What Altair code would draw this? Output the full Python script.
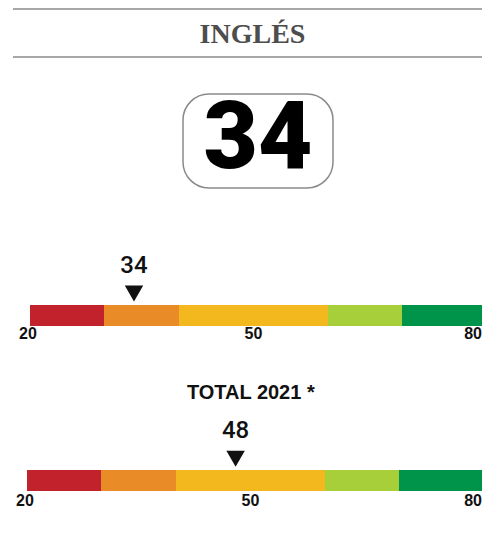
import altair as alt
import pandas as pd

# ---- data ----
seg_start = [20, 30, 40, 60, 70]
seg_end = [30, 40, 60, 70, 80]
seg_color = ["#C1222B", "#E98B26", "#F4B81F", "#A7CF3A", "#00944A"]
tick_values = [20, 50, 80]
subject = "INGLÉS"
subject_score = 34
total_label = "TOTAL 2021 *"
total_score = 48

W, H = 474, 502

segs = pd.DataFrame({"start": seg_start, "end": seg_end, "color": seg_color})
color_scale = alt.Scale(domain=seg_color, range=seg_color)


def gauge(score, rng, y0, y1, y_lab, y_tri, y_ticks):
    xs = alt.Scale(domain=[20, 30, 40, 60, 70, 80], range=rng)
    bars = alt.Chart(segs).mark_rect().encode(
        x=alt.X("start:Q", scale=xs, axis=None),
        x2="end:Q",
        y=alt.value(y0), y2=alt.value(y1),
        color=alt.Color("color:N", scale=color_scale, legend=None),
    )
    sdf = pd.DataFrame({"v": [score], "t": [str(score)]})
    lab = alt.Chart(sdf).mark_text(font="Roboto", fontSize=24, fontWeight=500,
                                   color="#111", baseline="middle").encode(
        x=alt.X("v:Q", scale=xs, axis=None), y=alt.value(y_lab), text="t:N")
    tri = alt.Chart(sdf).mark_point(shape="triangle-down", filled=True, size=340,
                                    color="#111", opacity=1).encode(
        x=alt.X("v:Q", scale=xs, axis=None), y=alt.value(y_tri))
    layers = [bars, lab, tri]
    aligns = ["center", "center", "right"]
    dxs = [-2, 0, 0]
    for v, a, d in zip(tick_values, aligns, dxs):
        tdf = pd.DataFrame({"v": [v], "t": [str(v)]})
        layers.append(alt.Chart(tdf).mark_text(font="Liberation Sans", fontSize=16,
                                               fontWeight="bold",
                                               color="#111", align=a, dx=d,
                                               baseline="middle").encode(
            x=alt.X("v:Q", scale=xs, axis=None), y=alt.value(y_ticks), text="t:N"))
    return alt.layer(*layers)


one = pd.DataFrame({"a": [0]})
line1 = alt.Chart(one).mark_rule(color="#8a8a8a", strokeWidth=1.5).encode(
    x=alt.value(5), x2=alt.value(W), y=alt.value(1))
line2 = alt.Chart(one).mark_rule(color="#8a8a8a", strokeWidth=1.5).encode(
    x=alt.value(5), x2=alt.value(W), y=alt.value(49))
title = alt.Chart(pd.DataFrame({"t": [subject]})).mark_text(
    font="Liberation Serif", fontSize=28, fontWeight="bold", color="#4d4d4d",
    baseline="middle", align="center").encode(
    x=alt.value(244.5), y=alt.value(27), text="t:N")
box = alt.Chart(one).mark_rect(fill="white", stroke="#8a8a8a", strokeWidth=1.5,
                               cornerRadius=26).encode(
    x=alt.value(175), x2=alt.value(325), y=alt.value(86), y2=alt.value(180))
big = alt.Chart(pd.DataFrame({"t": [str(subject_score)]})).mark_text(
    font="Roboto", fontSize=94, fontWeight=900, color="#000",
    baseline="middle", align="center").encode(
    x=alt.value(250), y=alt.value(132), text="t:N")
total = alt.Chart(pd.DataFrame({"t": [total_label]})).mark_text(
    font="Liberation Sans", fontSize=20, fontWeight="bold", color="#111",
    baseline="middle", align="center").encode(
    x=alt.value(242.8), y=alt.value(384.5), text="t:N")

header = alt.layer(line1, line2, title, box, big, total)
g1 = gauge(subject_score, [22, 96, 171, 320, 394, 474], 297, 318, 257.5, 285.5, 326)
g2 = gauge(total_score, [19, 93, 168, 317, 391, 474], 462, 483, 422.5, 450.7, 493)

chart = alt.layer(header, g1, g2).resolve_scale(x="independent").properties(
    width=W, height=H, padding=0, autosize=alt.AutoSizeParams(type="none")
).configure_view(stroke=None)

chart.save("out.html", embed_options={"renderer": "svg", "actions": False})
